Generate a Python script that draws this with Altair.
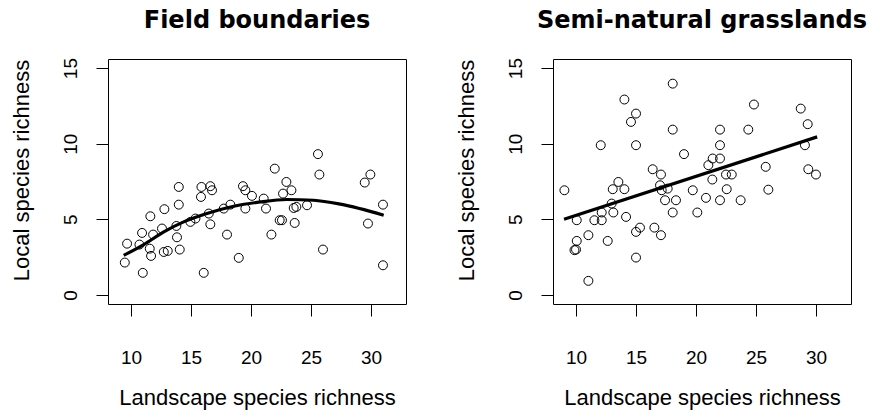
import altair as alt
import pandas as pd

# Field boundaries (left panel)
fb_x = [9.48, 9.67, 10.98, 10.92, 10.70, 11.61, 11.84, 11.67, 11.56, 12.58, 12.78, 12.73, 13.06, 13.83,
        14.06, 13.98, 13.98, 13.78, 16.06, 15.87, 15.83, 16.61, 16.75, 16.61, 16.48, 14.95, 15.37, 18.0,
        17.73, 18.28, 18.98, 19.33, 19.53, 20.08, 19.53, 21.06, 21.25, 21.70, 21.98, 22.39, 22.58, 22.95,
        23.37, 22.67, 23.64, 23.56, 23.78, 24.67, 25.58, 25.70, 26.0, 29.48, 29.95, 29.75, 31.0, 31.0]
fb_y = [2.14, 3.39, 1.46, 4.10, 3.33, 5.20, 3.99, 2.58, 3.06, 4.39, 5.67, 2.84, 2.91, 3.81,
        3.00, 5.97, 7.14, 4.56, 1.46, 7.14, 6.48, 7.19, 6.92, 4.67, 5.38, 4.83, 5.05, 3.99,
        5.71, 5.97, 2.45, 7.19, 6.92, 6.55, 5.71, 6.37, 5.71, 3.99, 8.35, 4.94, 4.94, 7.47,
        6.92, 6.70, 4.76, 5.75, 5.82, 5.93, 9.31, 7.96, 3.0, 7.43, 7.96, 4.72, 5.97, 1.96]
fb_fit_x = [9.39, 11.06, 12.73, 14.39, 16.33, 18.56, 20.78, 23.0, 25.22, 27.45, 31.06]
fb_fit_y = [2.62, 3.33, 4.17, 4.83, 5.38, 5.86, 6.15, 6.31, 6.26, 6.0, 5.27]

# Semi-natural grasslands (right panel)
sg_x = [9.03, 10.06, 10.06, 9.87, 10.0, 11.03, 11.03, 12.06, 11.53, 12.14, 12.14, 12.64, 13.06, 13.53,
        14.03, 12.97, 13.11, 14.03, 14.17, 14.58, 15.0, 15.0, 15.0, 15.33, 15.0, 16.39, 17.08, 16.53,
        17.08, 17.0, 17.14, 17.64, 17.42, 18.33, 18.06, 18.06, 18.06, 19.0, 19.73, 20.11, 20.83, 21.03,
        21.39, 21.36, 22.0, 22.0, 22.0, 22.0, 22.5, 22.98, 22.56, 23.72, 24.36, 24.83, 25.81, 26.03,
        28.73, 29.31, 29.08, 29.36, 30.0]
sg_y = [6.92, 4.94, 3.57, 2.96, 3.0, 3.95, 0.93, 9.90, 4.94, 4.94, 5.45, 3.57, 6.99, 7.47,
        6.99, 6.04, 5.45, 12.92, 5.16, 11.44, 11.99, 9.90, 4.17, 4.45, 2.47, 8.31, 7.96, 4.45,
        3.95, 7.25, 6.92, 7.03, 6.26, 6.26, 13.97, 10.93, 5.45, 9.31, 6.92, 5.45, 6.42, 8.58,
        9.02, 7.63, 10.93, 9.90, 9.02, 6.26, 7.96, 7.96, 6.99, 6.26, 10.93, 12.59, 8.47, 6.96,
        12.32, 11.29, 9.90, 8.31, 7.96]
sg_fit_x = [9.0, 30.1]
sg_fit_y = [5.0, 10.45]

x_ticks = [10, 15, 20, 25, 30]
y_ticks = [0, 5, 10, 15]
titles = ["Field boundaries", "Semi-natural grasslands"]
x_title = "Landscape species richness"
y_title = "Local species richness"

X_DOMAIN = [8.08, 32.92]
Y_DOMAIN = [-0.6, 15.6]
W, H = 298, 245


def panel(xs, ys, fx, fy, title):
    pts = pd.DataFrame({"x": xs, "y": ys})
    fit = pd.DataFrame({"x": fx, "y": fy})
    xenc = alt.X("x:Q", scale=alt.Scale(domain=X_DOMAIN, nice=False, zero=False),
                 axis=alt.Axis(values=x_ticks, title=x_title, titleX=W / 2, titleY=100,
                               titleBaseline="alphabetic", titleAlign="center",
                               labelBaseline="alphabetic", labelPadding=47))
    yenc = alt.Y("y:Q", scale=alt.Scale(domain=Y_DOMAIN, nice=False, zero=False),
                 axis=alt.Axis(values=y_ticks, title=y_title, titleX=-80, titleY=111,
                               titleBaseline="alphabetic", titleAlign="center", titleAngle=270,
                               labelAngle=270, labelAlign="center", labelBaseline="alphabetic",
                               labelPadding=20))
    points = alt.Chart(pts).mark_point(shape="circle", filled=False, color="black",
                                       size=80, strokeWidth=1, opacity=1).encode(x=xenc, y=yenc)
    line = alt.Chart(fit).mark_line(color="black", strokeWidth=3.2,
                                    interpolate="monotone").encode(x="x:Q", y="y:Q")
    return alt.layer(points, line).properties(
        width=W, height=H,
        title=alt.TitleParams(text=title, font="DejaVu Sans", fontSize=24, fontWeight="bold",
                              anchor="middle", frame="group", baseline="alphabetic",
                              offset=6, color="black"))


left = panel(fb_x, fb_y, fb_fit_x, fb_fit_y, titles[0])
right = panel(sg_x, sg_y, sg_fit_x, sg_fit_y, titles[1])

chart = alt.hconcat(left, right, spacing=47).properties(
    padding={"left": 9, "top": 8, "right": 5, "bottom": 5},
    background="white",
).configure_view(stroke="black", strokeWidth=1).configure_axis(
    domain=False, grid=False, ticks=True, tickSize=12, tickColor="black", tickWidth=1,
    labelFont="Liberation Sans", labelFontSize=19, labelColor="black",
    titleFont="Liberation Sans", titleFontSize=22, titleFontWeight="normal", titleColor="black",
)

chart.save("out.html", embed_options={"renderer": "svg", "actions": False})
